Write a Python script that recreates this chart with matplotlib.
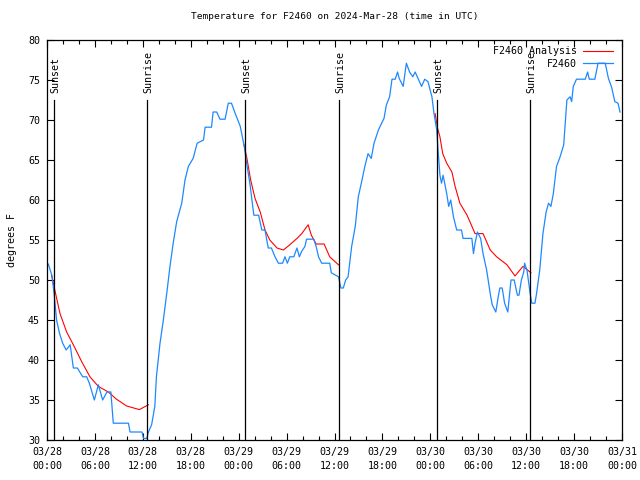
import matplotlib
matplotlib.use("Agg")
import matplotlib.pyplot as plt
from matplotlib.ticker import MultipleLocator

# hours since 2024-03-28 00:00 UTC
obs_hours = [0.16, 0.6, 0.88, 1.2, 1.55, 1.96, 2.4, 2.9, 3.3, 3.8, 4.47, 4.97, 5.3, 5.93,
             6.43, 6.97, 7.5, 8.0, 8.3, 10.2, 10.4, 11.9, 12.07, 12.5, 12.7, 13.1, 13.5,
             13.7, 14.15, 14.57, 14.99, 15.4, 15.8, 16.24, 16.87, 17.28, 17.7, 18.3, 18.8,
             19.6, 19.8, 20.6, 20.8, 21.25, 21.66, 22.3, 22.7, 23.1, 23.5, 24.2, 24.7,
             25.0, 25.4, 25.9, 26.5, 26.9, 27.3, 27.7, 28.1, 28.55, 28.97, 29.5, 29.8,
             30.1, 30.4, 30.9, 31.3, 31.6, 31.9, 32.3, 32.5, 33.4, 33.7, 34.0, 34.4,
             35.4, 35.6, 36.5, 36.8, 37.1, 37.4, 37.7, 38.15, 38.6, 38.98, 39.4, 39.8,
             40.2, 40.6, 40.95, 41.5, 41.9, 42.2, 42.5, 42.9, 43.2, 43.6, 43.9, 44.1,
             44.6, 45.0, 45.4, 45.8, 46.1, 46.5, 46.9, 47.3, 47.7, 48.2, 48.46, 48.8,
             49.0, 49.2, 49.4, 49.6, 50.05, 50.3, 50.55, 50.9, 51.3, 51.9, 52.1, 53.2,
             53.4, 53.6, 53.9, 54.3, 54.6, 55.05, 55.5, 55.75, 56.2, 56.5, 56.7, 57.0,
             57.3, 57.7, 58.1, 58.5, 58.9, 59.1, 59.4, 59.7, 59.8, 60.1, 60.5, 60.7,
             61.1, 61.3, 61.7, 62.1, 62.5, 62.8, 63.1, 63.4, 63.8, 64.25, 64.7, 65.1,
             65.5, 65.7, 65.9, 66.3, 67.4, 67.7, 67.9, 68.6, 69.0, 69.9, 70.3, 70.7,
             71.1, 71.5, 71.75]
obs_temps = [52.0, 50.6, 48.4, 45.0, 43.4, 42.1, 41.25, 41.9, 39.0, 39.0, 37.9, 37.9, 37.1, 35.0,
             36.9, 35.0, 36.0, 36.0, 32.1, 32.1, 31.0, 31.0, 30.2, 30.2, 31.0, 31.9, 34.2,
             37.9, 42.1, 45.0, 48.3, 51.7, 54.6, 57.3, 59.6, 62.5, 64.2, 65.2, 67.1,
             67.5, 69.1, 69.1, 71.0, 71.0, 70.1, 70.1, 72.1, 72.1, 71.0, 69.2, 66.7,
             64.6, 62.1, 58.1, 58.1, 56.25, 56.25, 54.0, 54.0, 52.9, 52.1, 52.1, 52.9,
             52.1, 52.9, 52.9, 54.0, 52.9, 53.6, 54.2, 55.1, 55.1, 54.2, 52.9, 52.1,
             52.1, 50.9, 50.4, 49.0, 49.0, 50.0, 50.4, 54.2, 56.7, 60.4, 62.3, 64.2,
             65.8, 65.2, 67.1, 68.75, 69.6, 70.2, 71.9, 72.9, 75.1, 75.1, 76.0, 75.2,
             74.2, 77.1, 76.0, 75.4, 76.0, 75.1, 74.2, 75.1, 74.8, 72.9, 70.8, 68.75,
             65.8, 63.1, 62.1, 63.1, 60.8, 59.2, 60.0, 57.9, 56.25, 56.25, 55.2, 55.2,
             53.3, 54.6, 56.0, 55.2, 53.3, 51.25, 48.3, 46.9, 46.0, 47.9, 49.0, 49.0,
             47.1, 46.0, 50.0, 50.0, 48.1, 48.1, 50.0, 51.0, 52.1, 51.25, 48.3, 47.1,
             47.1, 48.3, 51.25, 55.8, 58.5, 59.6, 59.2, 60.8, 64.2, 65.4, 66.9, 72.5,
             72.9, 72.3, 74.2, 75.1, 75.1, 76.0, 75.1, 75.1, 77.1, 77.1, 75.2, 74.1,
             72.3, 72.1, 71.0]

# analysis series, one piece per night (None breaks the line)
ana_hours = [0.58, 0.9, 1.63, 2.46, 3.3, 4.34, 5.38, 6.43, 7.68, 8.7, 9.98, 11.56, 12.7, None,
             24.67, 25.0, 25.5, 26.05, 26.7, 27.3, 27.9, 28.8, 29.6, 30.4, 31.3, 31.9, 32.7,
             33.1, 33.7, 34.7, 35.4, 36.5, None,
             48.6, 48.9, 49.2, 49.55, 50.05, 50.7, 51.1, 51.7, 52.6, 53.6, 54.6, 55.5,
             56.3, 57.6, 58.6, 59.6, 60.6]
ana_temps = [50.6, 49.1, 45.8, 43.5, 41.9, 39.8, 37.9, 36.7, 36.0, 35.1, 34.25, 33.8, 34.4, None,
             66.9, 65.4, 62.5, 60.2, 58.5, 56.25, 55.0, 54.0, 53.75, 54.4, 55.2, 55.8, 56.9,
             55.6, 54.5, 54.5, 52.9, 51.9, None,
             70.8, 69.0, 67.9, 65.8, 64.6, 63.5, 61.7, 59.6, 58.1, 55.8, 55.8, 53.75,
             52.9, 51.9, 50.5, 51.7, 50.9]

sun_hours = [0.92, 12.56, 24.85, 36.6, 48.88, 60.5]
sun_labels = ["Sunset", "Sunrise", "Sunset", "Sunrise", "Sunset", "Sunrise"]

tick_hours = list(range(0, 73, 6))
tick_labels = ["03/28\n00:00", "03/28\n06:00", "03/28\n12:00", "03/28\n18:00",
               "03/29\n00:00", "03/29\n06:00", "03/29\n12:00", "03/29\n18:00",
               "03/30\n00:00", "03/30\n06:00", "03/30\n12:00", "03/30\n18:00",
               "03/31\n00:00"]

plt.rcParams["font.family"] = ["DejaVu Sans Mono"]
plt.rcParams["font.size"] = 7.2

fig = plt.figure(figsize=(6.4, 4.8), dpi=100)
ax = fig.add_axes([47 / 640, 40 / 480, 575 / 640, 400 / 480])

ana_x = [float("nan") if h is None else h for h in ana_hours]
ana_y = [float("nan") if t is None else t for t in ana_temps]
ax.plot(ana_x, ana_y, color="#ff0000", lw=0.8, label="F2460 Analysis")
ax.plot(obs_hours, obs_temps, color="#1e88ff", lw=0.9, label="F2460")

for h, lab in zip(sun_hours, sun_labels):
    ax.axvline(h, ymin=0, ymax=(72.5 - 30) / 50, color="black", lw=0.9)
    ax.text(h + 0.15, 73.4, lab, rotation=90, ha="center", va="bottom")

ax.set_xlim(0, 72)
ax.set_ylim(30, 80)
ax.set_xticks(tick_hours)
ax.set_xticklabels(tick_labels, linespacing=1.5)
ax.xaxis.set_minor_locator(MultipleLocator(2))
ax.set_yticks(range(30, 81, 5))
ax.tick_params(which="both", direction="in", top=True, right=True, width=0.8)
ax.tick_params(which="major", length=5, pad=5)
ax.tick_params(which="minor", length=3)
ax.set_ylabel("degrees F", labelpad=8)
ax.set_title("Temperature for F2460 on 2024-Mar-28 (time in UTC)", fontsize=6.8, pad=15)
for s in ax.spines.values():
    s.set_linewidth(0.9)

ax.legend(loc="upper right", frameon=False, markerfirst=False, handlelength=3.0,
          borderaxespad=0.25, labelspacing=0.25, handletextpad=0.6,
          bbox_to_anchor=(0.995, 1.0))

fig.savefig("out.png", dpi=100)
